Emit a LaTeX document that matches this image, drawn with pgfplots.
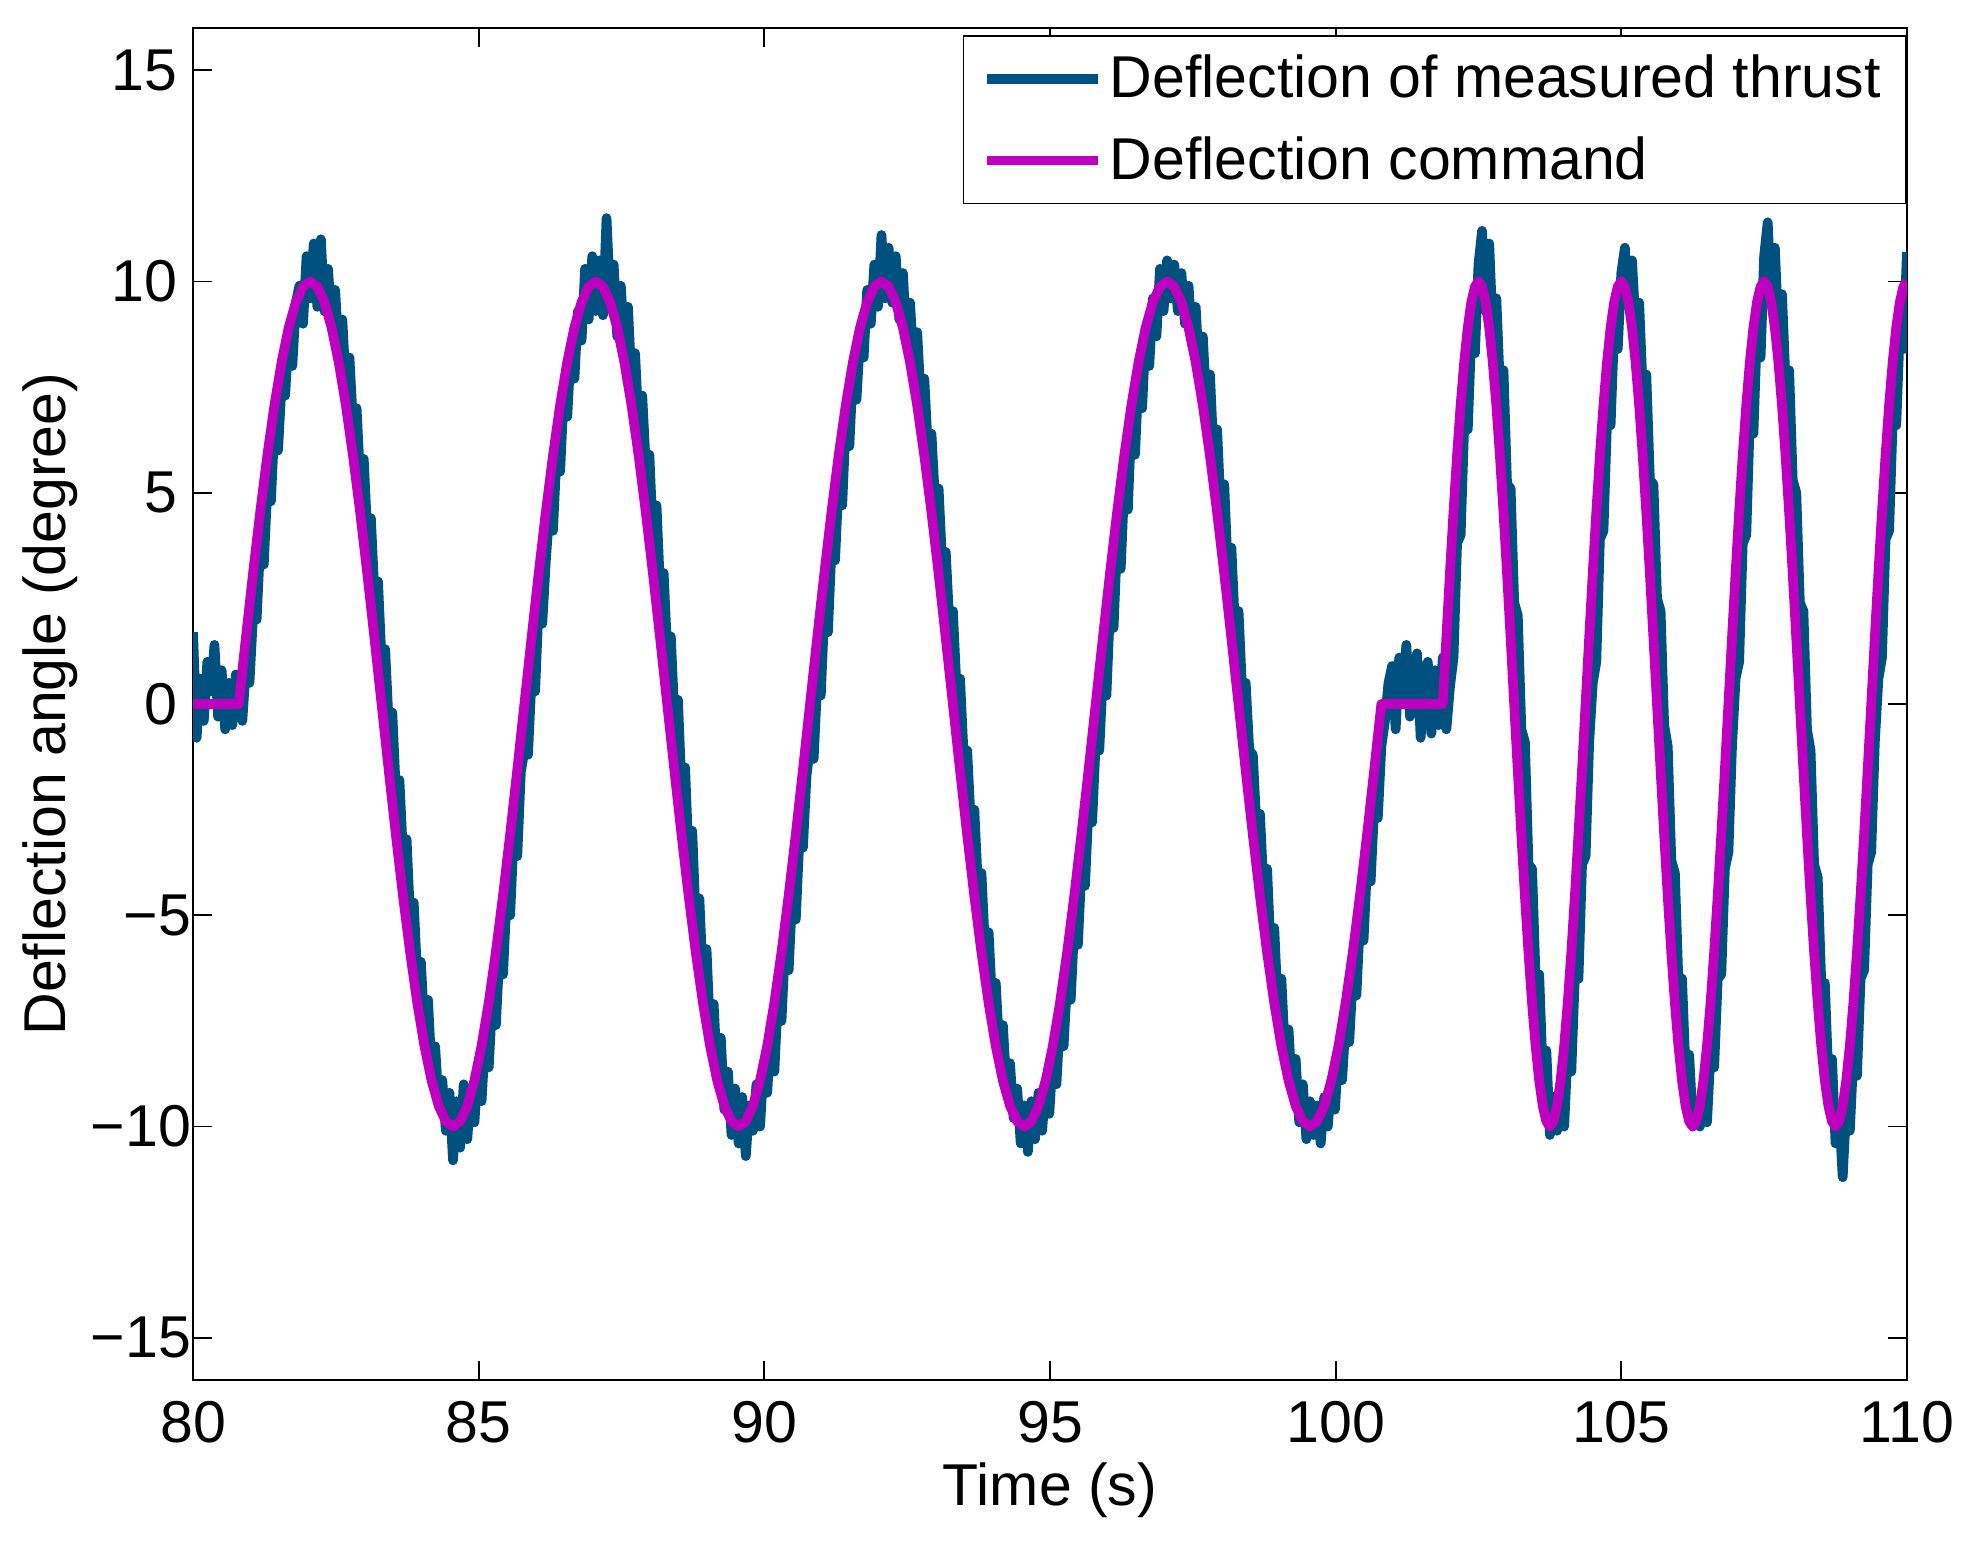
\documentclass[border=0pt]{standalone}
\usepackage{fontspec}
\setmainfont{Liberation Sans}
\usepackage{pgfplots}
\pgfplotsset{compat=1.18}
\definecolor{meas}{RGB}{0,80,128}
\definecolor{cmd}{RGB}{191,0,191}
\begin{document}
\begin{tikzpicture}[font=\fontsize{17}{20}\selectfont]
\path[use as bounding box] (-55.6pt,-46.4pt) rectangle (513.2pt,397.46pt);
\begin{axis}[
 at={(0pt,0pt)}, anchor=south west,
 scale only axis, width=493.6pt, height=389.4pt,
 xmin=80, xmax=110, ymin=-16, ymax=16,
 xtick={80,85,90,95,100,105,110}, ytick={-15,-10,-5,0,5,10,15},
 xticklabels={80,85,90,95,100,105,110},
 yticklabels={{−15\kern-3.9pt},{−10\kern-3.9pt},{−5\kern-3.9pt},0,5,10,15},
 tick align=inside, xtick pos=both, ytick pos=both, xticklabel pos=lower, yticklabel pos=left,
 major tick length=5.5pt, minor tick num=0,
 every tick/.style={black, line width=0.5pt},
 axis line style={line width=0.6pt},
 xticklabel style={anchor=base, yshift=-18.1pt, inner sep=0pt},
 yticklabel style={anchor=east, inner sep=0pt, xshift=-4.3pt},
 xlabel={Time (s)}, ylabel={Deflection angle (degree)},
 xlabel style={at={(axis description cs:0.5,-0.0925)}, anchor=base, inner sep=0pt},
 ylabel style={at={(axis description cs:-0.0742,0.5)}, anchor=base, inner sep=0pt},
 legend style={at={(1,1)}, anchor=north east, yshift=-2.1pt, draw=black, line width=0.5pt, fill=white,
   inner xsep=5.3pt, inner ysep=3.5pt, row sep=5.6pt, column sep=0pt, nodes={inner sep=2pt}, cells={anchor=west}},
 legend cell align=left,
 legend image code/.code={\draw[#1, line width=2.8pt] (0pt,0pt) -- (32pt,0pt);},
]
\addplot[meas, line width=2.8pt, line join=round, no marks] coordinates {
(80,1.7)(80.0625,-0.8)(80.125,0.6)(80.1875,-0.4)(80.25,1.0)(80.3125,0.3)(80.375,1.4)(80.4375,-0.3)(80.5,0.8)(80.5625,-0.6)(80.625,0.5)(80.6875,-0.5)(80.75,0.7)
(80.8,0.6)(80.8625,-0.4)(80.925,0.9)(80.9875,0.5)(81.05,2.1)(81.1125,2.0)(81.175,3.8)(81.2375,3.3)(81.3,5.1)(81.3625,4.8)(81.425,6.6)(81.4875,6.0)(81.55,7.6)(81.6125,7.3)(81.675,8.9)(81.7375,8.0)
(81.8,9.5)(81.8625,9.9)(81.925,9.0)(81.9875,10.6)(82.05,9.6)(82.1125,10.9)(82.175,9.4)(82.2375,11.0)(82.3,9.3)(82.3625,10.3)(82.425,9.0)(82.4875,9.8)(82.55,8.3)(82.6125,9.1)(82.675,7.5)(82.7375,8.2)
(82.8,6.6)(82.8625,7.0)(82.925,5.3)(82.9875,5.8)(83.05,4.0)(83.1125,4.4)(83.175,2.6)(83.2375,2.9)(83.3,1.0)(83.3625,1.3)(83.425,-0.5)(83.4875,-0.2)(83.55,-2.1)(83.6125,-1.8)(83.675,-3.6)(83.7375,-3.2)
(83.8,-5.1)(83.8625,-4.7)(83.925,-6.5)(83.9875,-6.1)(84.05,-7.7)(84.1125,-7.0)(84.175,-8.7)(84.2375,-8.1)(84.3,-9.5)(84.3625,-8.9)(84.425,-10.1)(84.4875,-9.2)(84.55,-10.8)(84.6125,-9.4)(84.675,-10.5)(84.7375,-9.0)
(84.8,-10.3)(84.8625,-9.1)(84.925,-9.9)(84.9875,-8.6)(85.05,-9.4)(85.1125,-7.9)(85.175,-8.6)(85.2375,-7.0)(85.3,-7.6)(85.3625,-5.9)(85.425,-6.4)(85.4875,-4.6)(85.55,-5.0)(85.6125,-3.1)(85.675,-3.6)(85.7375,-1.6)
(85.8,-1.1)(85.8625,-1.2)(85.925,0.6)(85.9875,0.3)(86.05,2.4)(86.1125,1.9)(86.175,3.4)(86.2375,4.6)(86.3,4.1)(86.3625,5.9)(86.425,5.5)(86.4875,7.3)(86.55,6.8)(86.6125,8.4)(86.675,7.7)(86.7375,9.3)
(86.8,8.6)(86.8625,10.3)(86.925,9.1)(86.9875,10.6)(87.05,9.3)(87.1125,10.5)(87.175,9.2)(87.2375,11.5)(87.3,9.6)(87.3625,10.4)(87.425,8.7)(87.4875,9.9)(87.55,8.4)(87.6125,9.4)(87.675,7.6)(87.7375,8.3)
(87.8,6.5)(87.8625,7.3)(87.925,5.6)(87.9875,5.9)(88.05,3.9)(88.1125,4.7)(88.175,2.7)(88.2375,3.1)(88.3,1.2)(88.3625,1.6)(88.425,-0.3)(88.4875,0.1)(88.55,-2.0)(88.6125,-1.5)(88.675,-3.7)(88.7375,-3.0)
(88.8,-5.2)(88.8625,-4.6)(88.925,-6.6)(88.9875,-5.8)(89.05,-7.8)(89.1125,-7.1)(89.175,-8.8)(89.2375,-7.9)(89.3,-9.6)(89.3625,-8.7)(89.425,-10.2)(89.4875,-9.1)(89.55,-10.4)(89.6125,-9.3)(89.675,-10.7)(89.7375,-9.5)
(89.8,-10.1)(89.8625,-9.0)(89.925,-10.0)(89.9875,-8.5)(90.05,-9.2)(90.1125,-7.8)(90.175,-8.7)(90.2375,-6.9)(90.3,-7.5)(90.3625,-5.7)(90.425,-6.3)(90.4875,-4.5)(90.55,-5.1)(90.6125,-3.2)(90.675,-3.4)(90.7375,-1.7)
(90.8,-1.0)(90.8625,-1.3)(90.925,0.5)(90.9875,0.2)(91.05,2.2)(91.1125,1.7)(91.175,3.7)(91.2375,3.4)(91.3,5.3)(91.3625,4.7)(91.425,6.7)(91.4875,6.1)(91.55,7.9)(91.6125,7.2)(91.675,8.7)(91.7375,8.2)
(91.8,9.8)(91.8625,9.0)(91.925,10.4)(91.9875,9.4)(92.05,11.1)(92.1125,9.6)(92.175,10.8)(92.2375,9.5)(92.3,10.6)(92.3625,9.1)(92.425,10.2)(92.4875,8.6)(92.55,9.5)(92.6125,8.0)(92.675,8.8)(92.7375,7.2)
(92.8,7.7)(92.8625,6.0)(92.925,6.4)(92.9875,4.8)(93.05,5.1)(93.1125,3.3)(93.175,3.6)(93.2375,1.9)(93.3,2.2)(93.3625,0.4)(93.425,0.6)(93.4875,-1.2)(93.55,-1.1)(93.6125,-2.8)(93.675,-2.5)(93.7375,-4.3)
(93.8,-4.0)(93.8625,-5.8)(93.925,-5.4)(93.9875,-7.1)(94.05,-6.6)(94.1125,-8.2)(94.175,-7.6)(94.2375,-9.1)(94.3,-8.5)(94.3625,-9.8)(94.425,-9.1)(94.4875,-10.4)(94.55,-9.5)(94.6125,-10.6)(94.675,-9.4)(94.7375,-10.3)
(94.8,-9.2)(94.8625,-10.1)(94.925,-8.9)(94.9875,-9.7)(95.05,-8.3)(95.1125,-9.0)(95.175,-7.4)(95.2375,-8.1)(95.3,-6.5)(95.3625,-7.0)(95.425,-5.2)(95.4875,-5.7)(95.55,-3.9)(95.6125,-4.3)(95.675,-2.4)(95.7375,-2.8)
(95.8,-0.9)(95.8625,-1.1)(95.925,0.7)(95.9875,0.2)(96.05,2.3)(96.1125,1.8)(96.175,3.9)(96.2375,3.2)(96.3,5.2)(96.3625,4.6)(96.425,6.8)(96.4875,5.9)(96.55,7.8)(96.6125,7.0)(96.675,8.9)(96.7375,8.0)
(96.8,9.6)(96.8625,8.7)(96.925,10.3)(96.9875,9.3)(97.05,10.5)(97.1125,9.6)(97.175,10.4)(97.2375,9.3)(97.3,10.2)(97.3625,9.0)(97.425,9.9)(97.4875,8.5)(97.55,9.4)(97.6125,7.8)(97.675,8.7)(97.7375,7.0)
(97.8,7.8)(97.8625,5.9)(97.925,6.5)(97.9875,4.6)(98.05,5.2)(98.1125,3.1)(98.175,3.7)(98.2375,1.8)(98.3,2.2)(98.3625,0.3)(98.425,0.5)(98.4875,-1.1)(98.55,-1.2)(98.6125,-2.9)(98.675,-2.6)(98.7375,-4.4)
(98.8,-3.9)(98.8625,-5.9)(98.925,-5.3)(98.9875,-7.2)(99.05,-6.5)(99.1125,-8.3)(99.175,-7.7)(99.2375,-9.2)(99.3,-8.4)(99.3625,-9.9)(99.425,-9.0)(99.4875,-10.3)(99.55,-9.4)(99.6125,-10.2)(99.675,-9.5)(99.7375,-10.4)
(99.8,-9.3)(99.8625,-10.0)(99.925,-8.9)(99.9875,-9.6)(100.05,-8.2)(100.1125,-8.9)(100.175,-7.5)(100.2375,-8.0)(100.3,-6.4)(100.3625,-6.9)(100.425,-5.1)(100.4875,-5.6)(100.55,-3.8)(100.6125,-4.2)(100.675,-2.4)(100.7375,-2.7)
(100.8,-1.0)(100.8625,-0.4)(100.925,0.5)
(100.9875,0.9)(101.05,-0.6)(101.1125,1.1)(101.175,0.2)(101.2375,1.4)(101.3,-0.3)(101.3625,0.7)(101.425,1.2)(101.4875,-0.8)(101.55,0.5)(101.6125,1.0)(101.675,-0.7)(101.7375,0.8)(101.8,-0.5)
(101.875,1.1)(101.9375,-0.6)(102.0,0.4)(102.0625,1.1)(102.125,3.8)(102.1875,4.0)(102.25,6.6)(102.3125,6.5)(102.375,8.8)(102.4375,8.3)(102.5,10.4)(102.5625,11.2)(102.625,9.3)(102.6875,10.9)(102.75,8.8)(102.8125,9.6)
(102.875,7.5)(102.9375,7.9)(103.0,5.2)(103.0625,5.1)(103.125,2.4)(103.1875,2.1)(103.25,-0.6)(103.3125,-0.9)(103.375,-3.8)(103.4375,-3.9)(103.5,-6.5)(103.5625,-6.4)(103.625,-8.8)(103.6875,-8.2)(103.75,-10.2)(103.8125,-9.3)
(103.875,-10.1)(103.9375,-9.2)(104.0,-10.0)(104.0625,-8.1)(104.125,-8.7)(104.1875,-6.4)(104.25,-6.5)(104.3125,-3.8)(104.375,-3.6)(104.4375,-0.9)(104.5,0.5)(104.5625,1.0)(104.625,3.9)(104.6875,4.1)(104.75,6.7)(104.8125,6.6)
(104.875,8.9)(104.9375,8.4)(105.0,10.2)(105.0625,10.8)(105.125,9.4)(105.1875,10.5)(105.25,8.9)(105.3125,9.5)(105.375,7.4)(105.4375,7.8)(105.5,5.3)(105.5625,5.2)(105.625,2.5)(105.6875,2.2)(105.75,-0.5)(105.8125,-1.0)
(105.875,-3.7)(105.9375,-4.0)(106.0,-6.6)(106.0625,-6.5)(106.125,-8.7)(106.1875,-8.3)(106.25,-9.9)(106.3125,-9.4)(106.375,-10.0)(106.4375,-9.3)(106.5,-9.9)(106.5625,-8.2)(106.625,-8.6)(106.6875,-6.5)(106.75,-6.4)(106.8125,-3.9)
(106.875,-3.5)(106.9375,-1.0)(107.0,0.6)(107.0625,1.0)(107.125,3.8)(107.1875,4.0)(107.25,6.8)(107.3125,6.4)(107.375,8.9)(107.4375,8.2)(107.5,10.6)(107.5625,11.4)(107.625,9.5)(107.6875,10.8)(107.75,8.8)(107.8125,9.7)
(107.875,7.6)(107.9375,7.9)(108.0,5.3)(108.0625,5.0)(108.125,2.4)(108.1875,2.2)(108.25,-0.6)(108.3125,-1.1)(108.375,-3.8)(108.4375,-4.1)(108.5,-6.6)(108.5625,-6.6)(108.625,-8.9)(108.6875,-8.4)(108.75,-10.4)(108.8125,-9.6)
(108.875,-11.2)(108.9375,-9.5)(109.0,-10.1)(109.0625,-8.3)(109.125,-8.8)(109.1875,-6.5)(109.25,-6.3)(109.3125,-3.8)(109.375,-3.5)(109.4375,-0.9)(109.5,0.6)(109.5625,1.1)(109.625,3.9)(109.6875,4.1)(109.75,6.7)(109.8125,6.6)
(109.875,8.9)(109.9375,8.4)(110.0,10.7)
};
\addlegendentry{Deflection of measured thrust}
\addplot[cmd, line width=2.8pt, line join=round, no marks] coordinates {
(80,0)(80.8,0)
(80.925,1.564)(81.05,3.090)(81.175,4.540)(81.3,5.878)(81.425,7.071)(81.55,8.090)(81.675,8.910)(81.8,9.511)(81.925,9.877)(82.05,10)(82.175,9.877)(82.3,9.511)(82.425,8.910)(82.55,8.090)(82.675,7.071)(82.8,5.878)(82.925,4.540)(83.05,3.090)(83.175,1.564)(83.3,0)(83.425,-1.564)(83.55,-3.090)(83.675,-4.540)(83.8,-5.878)(83.925,-7.071)(84.05,-8.090)(84.175,-8.910)(84.3,-9.511)(84.425,-9.877)(84.55,-10)(84.675,-9.877)(84.8,-9.511)(84.925,-8.910)(85.05,-8.090)(85.175,-7.071)(85.3,-5.878)(85.425,-4.540)(85.55,-3.090)(85.675,-1.564)(85.8,0)
(85.925,1.564)(86.05,3.090)(86.175,4.540)(86.3,5.878)(86.425,7.071)(86.55,8.090)(86.675,8.910)(86.8,9.511)(86.925,9.877)(87.05,10)(87.175,9.877)(87.3,9.511)(87.425,8.910)(87.55,8.090)(87.675,7.071)(87.8,5.878)(87.925,4.540)(88.05,3.090)(88.175,1.564)(88.3,0)(88.425,-1.564)(88.55,-3.090)(88.675,-4.540)(88.8,-5.878)(88.925,-7.071)(89.05,-8.090)(89.175,-8.910)(89.3,-9.511)(89.425,-9.877)(89.55,-10)(89.675,-9.877)(89.8,-9.511)(89.925,-8.910)(90.05,-8.090)(90.175,-7.071)(90.3,-5.878)(90.425,-4.540)(90.55,-3.090)(90.675,-1.564)(90.8,0)
(90.925,1.564)(91.05,3.090)(91.175,4.540)(91.3,5.878)(91.425,7.071)(91.55,8.090)(91.675,8.910)(91.8,9.511)(91.925,9.877)(92.05,10)(92.175,9.877)(92.3,9.511)(92.425,8.910)(92.55,8.090)(92.675,7.071)(92.8,5.878)(92.925,4.540)(93.05,3.090)(93.175,1.564)(93.3,0)(93.425,-1.564)(93.55,-3.090)(93.675,-4.540)(93.8,-5.878)(93.925,-7.071)(94.05,-8.090)(94.175,-8.910)(94.3,-9.511)(94.425,-9.877)(94.55,-10)(94.675,-9.877)(94.8,-9.511)(94.925,-8.910)(95.05,-8.090)(95.175,-7.071)(95.3,-5.878)(95.425,-4.540)(95.55,-3.090)(95.675,-1.564)(95.8,0)
(95.925,1.564)(96.05,3.090)(96.175,4.540)(96.3,5.878)(96.425,7.071)(96.55,8.090)(96.675,8.910)(96.8,9.511)(96.925,9.877)(97.05,10)(97.175,9.877)(97.3,9.511)(97.425,8.910)(97.55,8.090)(97.675,7.071)(97.8,5.878)(97.925,4.540)(98.05,3.090)(98.175,1.564)(98.3,0)(98.425,-1.564)(98.55,-3.090)(98.675,-4.540)(98.8,-5.878)(98.925,-7.071)(99.05,-8.090)(99.175,-8.910)(99.3,-9.511)(99.425,-9.877)(99.55,-10)(99.675,-9.877)(99.8,-9.511)(99.925,-8.910)(100.05,-8.090)(100.175,-7.071)(100.3,-5.878)(100.425,-4.540)(100.55,-3.090)(100.675,-1.564)(100.8,0)
(101.875,0)
(101.9375,1.564)(102.0,3.090)(102.0625,4.540)(102.125,5.878)(102.1875,7.071)(102.25,8.090)(102.3125,8.910)(102.375,9.511)(102.4375,9.877)(102.5,10)(102.5625,9.877)(102.625,9.511)(102.6875,8.910)(102.75,8.090)(102.8125,7.071)(102.875,5.878)(102.9375,4.540)(103.0,3.090)(103.0625,1.564)(103.125,0)(103.1875,-1.564)(103.25,-3.090)(103.3125,-4.540)(103.375,-5.878)(103.4375,-7.071)(103.5,-8.090)(103.5625,-8.910)(103.625,-9.511)(103.6875,-9.877)(103.75,-10)(103.8125,-9.877)(103.875,-9.511)(103.9375,-8.910)(104.0,-8.090)(104.0625,-7.071)(104.125,-5.878)(104.1875,-4.540)(104.25,-3.090)(104.3125,-1.564)(104.375,0)
(104.4375,1.564)(104.5,3.090)(104.5625,4.540)(104.625,5.878)(104.6875,7.071)(104.75,8.090)(104.8125,8.910)(104.875,9.511)(104.9375,9.877)(105.0,10)(105.0625,9.877)(105.125,9.511)(105.1875,8.910)(105.25,8.090)(105.3125,7.071)(105.375,5.878)(105.4375,4.540)(105.5,3.090)(105.5625,1.564)(105.625,0)(105.6875,-1.564)(105.75,-3.090)(105.8125,-4.540)(105.875,-5.878)(105.9375,-7.071)(106.0,-8.090)(106.0625,-8.910)(106.125,-9.511)(106.1875,-9.877)(106.25,-10)(106.3125,-9.877)(106.375,-9.511)(106.4375,-8.910)(106.5,-8.090)(106.5625,-7.071)(106.625,-5.878)(106.6875,-4.540)(106.75,-3.090)(106.8125,-1.564)(106.875,0)
(106.9375,1.564)(107.0,3.090)(107.0625,4.540)(107.125,5.878)(107.1875,7.071)(107.25,8.090)(107.3125,8.910)(107.375,9.511)(107.4375,9.877)(107.5,10)(107.5625,9.877)(107.625,9.511)(107.6875,8.910)(107.75,8.090)(107.8125,7.071)(107.875,5.878)(107.9375,4.540)(108.0,3.090)(108.0625,1.564)(108.125,0)(108.1875,-1.564)(108.25,-3.090)(108.3125,-4.540)(108.375,-5.878)(108.4375,-7.071)(108.5,-8.090)(108.5625,-8.910)(108.625,-9.511)(108.6875,-9.877)(108.75,-10)(108.8125,-9.877)(108.875,-9.511)(108.9375,-8.910)(109.0,-8.090)(109.0625,-7.071)(109.125,-5.878)(109.1875,-4.540)(109.25,-3.090)(109.3125,-1.564)(109.375,0)
(109.4375,1.564)(109.5,3.090)(109.5625,4.540)(109.625,5.878)(109.6875,7.071)(109.75,8.090)(109.8125,8.910)(109.875,9.511)(109.9375,9.877)(110.0,10)
};
\addlegendentry{Deflection command}
\end{axis}
\end{tikzpicture}
\end{document}
